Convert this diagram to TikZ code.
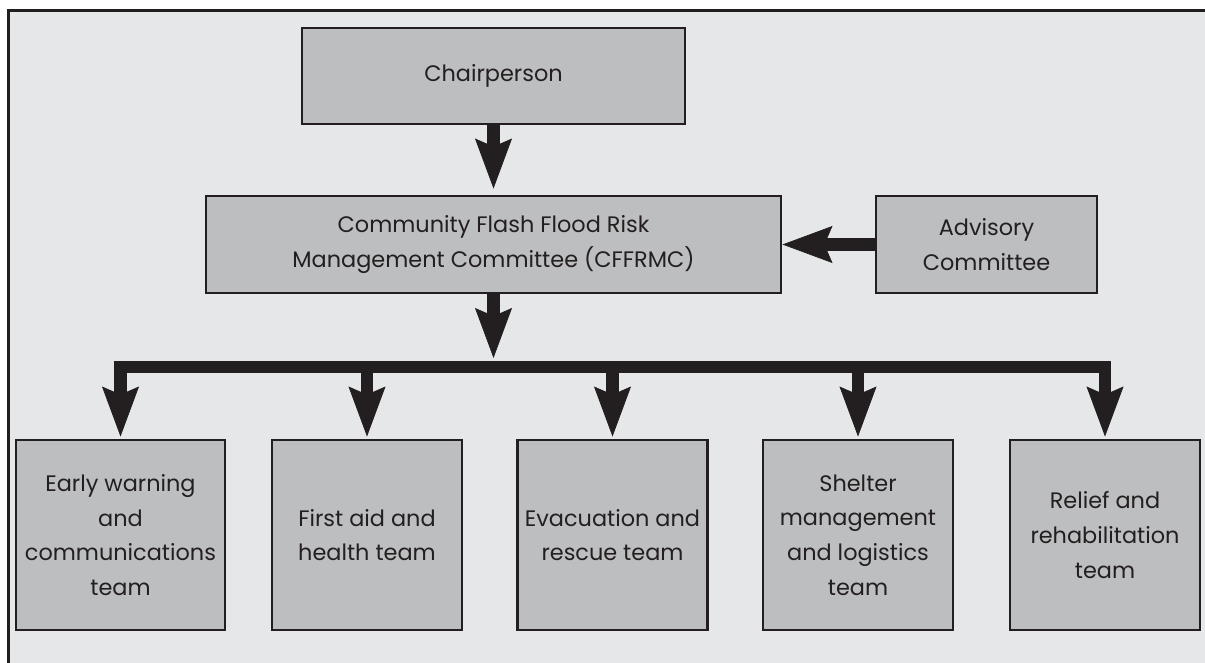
\documentclass[tikz,border=0pt]{standalone}
\usepackage{fontspec}
\setmainfont{Poppins}
\usepackage{xcolor}
\usetikzlibrary{arrows.meta,positioning}
\definecolor{panelgrey}{HTML}{E6E7E8}
\definecolor{boxgrey}{HTML}{BCBEC0}
\definecolor{ink}{HTML}{231F20}
\tikzset{%
	unit/.style     = {draw=ink, line width=2.2pt, fill=boxgrey, text=ink, align=center, inner sep=0pt, font=\fontsize{16.8}{26}\selectfont},
	teambox/.style  = {unit, minimum width=142.5pt, minimum height=142.5pt},
	fatarrow/.style = {draw=ink, line width=9.5pt, -{Stealth[length=37.5pt, width=27.75pt, inset=6pt, line width=0.5pt]}},
}

\begin{document}
\begin{tikzpicture}[x=0.75pt,y=-0.75pt]
		\useasboundingbox (0,0) rectangle (1205,663);
		% panel
		\fill[panelgrey] (8,11) rectangle (1205,663);
		\draw[ink, line width=2.25pt] (8,663) -- (8,11) -- (1205,11);
		
		% committee boxes
		\node[unit, minimum width=287.25pt, minimum height=72pt] (chair) at (493.5,76) {Chairperson};
		\node[unit, minimum width=431.25pt, minimum height=72.75pt] (cffrmc) at (493.5,244.5) {Community Flash Flood Risk\\Management Committee (CFFRMC)};
		\node[unit, minimum width=165.75pt, minimum height=72.75pt] (advisory) at (986.5,244.5) {Advisory\\Committee};
		
		% teams
		\node[teambox, minimum width=156.75pt] (early) at (120.5,535) {Early warning\\and\\communications\\team};
		\node[teambox] (firstaid) at (367,535) {First aid and\\health team};
		\node[teambox] (evac) at (612.5,535) {Evacuation and\\rescue team};
		\node[teambox] (shelter) at (858,535) {Shelter\\management\\and logistics\\team};
		\node[teambox] (relief) at (1105,535) {Relief and\\rehabilitation\\team};
		
		\coordinate (bus) at (493.5,367);
		
		\draw[fatarrow, shorten >=4.5pt] (chair) -- (cffrmc);
		\draw[fatarrow] (advisory) -- (cffrmc);
		\draw[fatarrow, shorten >=6.75pt] (cffrmc) -- (bus);
		\foreach \t in {early,firstaid,evac,shelter,relief} \draw[fatarrow, shorten >=1.5pt] (bus) -| (\t.north);
		\end{tikzpicture}
\end{document}
